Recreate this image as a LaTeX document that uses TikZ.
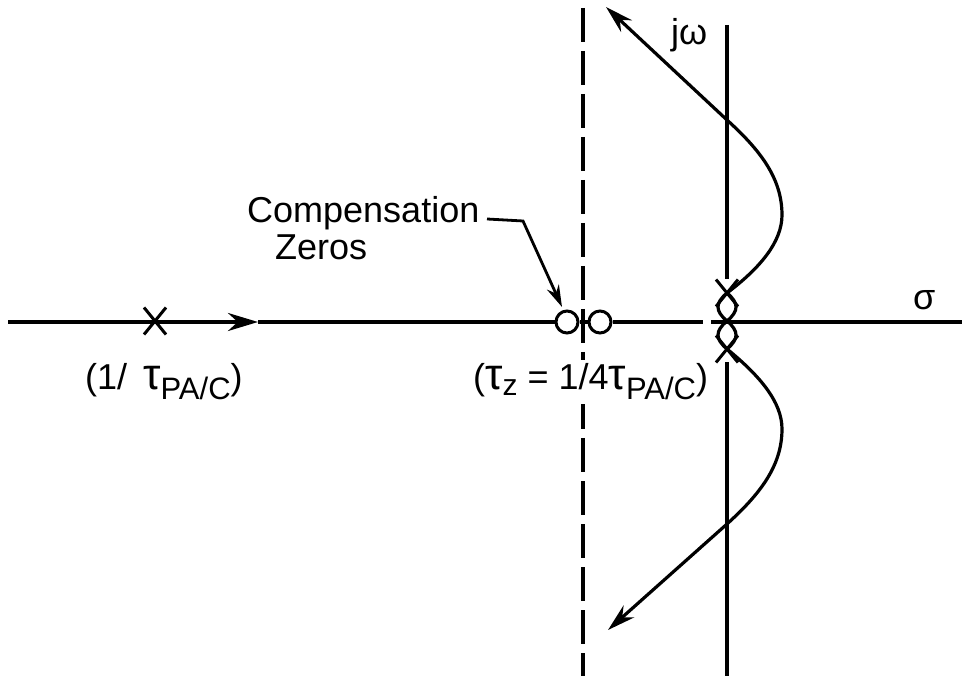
\documentclass[tikz,border=0pt]{standalone}
\usepackage{fontspec}
\setmainfont{Liberation Sans}
\usetikzlibrary{arrows.meta, shapes.misc}
\newcommand{\tsub}[1]{\raisebox{-10pt}{\fontsize{31}{34}\selectfont #1}}
\newcommand{\zsub}[1]{\raisebox{-6pt}{\fontsize{30}{32}\selectfont #1}}
\newcommand{\tbig}{{\fontsize{44}{44}\selectfont τ}}

\begin{document}
\begin{tikzpicture}[x=1pt, y=-1pt,
    pole/.style={cross out, draw, line width=3pt, minimum width=19pt, minimum height=24pt, inner sep=0pt},
    zero/.style={circle, draw, line width=3pt, minimum size=22pt, inner sep=0pt},
    axis/.style={line width=3.4pt},
    locus/.style={line width=3.2pt},
    arrow/.style={line width=2.8pt, -{Stealth[length=22pt, width=13pt]}},
    lbl/.style={font=\fontsize{36}{40}\selectfont, inner sep=0pt}]
\useasboundingbox (0,0) rectangle (962,676);

% Axes end points
\coordinate (axL)  at (8,322);
\coordinate (axR)  at (962,322);
\coordinate (mid)  at (258,322);
\coordinate (gapL) at (703,322);
\coordinate (gapR) at (711,322);
\coordinate (jtop) at (727,25);
\coordinate (jbot) at (727,676);
\coordinate (dtop) at (583,8);
\coordinate (dbot) at (583,676);

% Poles and zeros
\node[pole] (p1) at (155,321) {};
\node[zero] (z1) at (567,322) {};
\node[zero] (z2) at (600,322) {};
\node[pole] (p2) at (727,293) {};
\node[pole] (p3) at (727,349) {};
\coordinate (c0) at (727,321);

% Real axis
\draw[axis, -{Stealth[length=30pt, width=18pt]}] (axL) -- (mid);
\draw[axis] (mid) -- (z1);
\draw[axis] (z1) -- (z2);
\draw[axis] (z2) -- (gapL);
\draw[axis] (gapR) -- (axR);

% Imaginary axis and asymptote
\draw[axis] (jtop) -- (p2);
\draw[axis] (p3) -- (jbot);
\draw[axis, dash pattern=on 34pt off 9pt] (dtop) -- (dbot);

% Loops between the poles at the origin
\draw[locus] (p2.center) .. controls (715,303) and (715,311) .. (c0)
             .. controls (739,311) and (739,303) .. (p2.center);
\draw[locus] (c0) .. controls (715,331) and (715,339) .. (p3.center)
             .. controls (739,339) and (739,331) .. (c0);

% Root loci branches
\coordinate (utip) at (606,7);
\coordinate (ltip) at (608,630);
\draw[locus, -{Stealth[length=28pt, width=16pt]}] (p2.center)
    .. controls (760,268) and (782,242) .. (782,215)
    .. controls (782,178) and (760,150) .. (727,120) -- (utip);
\draw[locus, -{Stealth[length=28pt, width=16pt]}] (p3.center)
    .. controls (760,376) and (782,402) .. (782,429)
    .. controls (782,466) and (760,494) .. (727,524) -- (ltip);

% Labels
\node[lbl, anchor=base west] (cmp)  at (247,223) {Compensation};
\node[lbl, anchor=base west] (zer)  at (275,260) {Zeros};
\node[lbl, anchor=base west] (plbl) at (85,390)  {(1/\, \tbig\tsub{PA/C})};
\node[lbl, anchor=base west, fill=white, inner xsep=0pt, inner ysep=4pt] (zlbl) at (473,390)
     {(\tbig\zsub{z} = 1/4\tbig\tsub{PA/C})};
\node[lbl, anchor=base west] (sig) at (913,310) {σ};
\node[lbl, anchor=base west] (jw)  at (671,45)  {jω};

% Leader to the compensation zeros
\coordinate (ld0) at (487,219);
\coordinate (ld1) at (523,221);
\coordinate (ldtip) at (562,307);
\draw[arrow] (ld0) -- (ld1) -- (ldtip);

\end{tikzpicture}
\end{document}
